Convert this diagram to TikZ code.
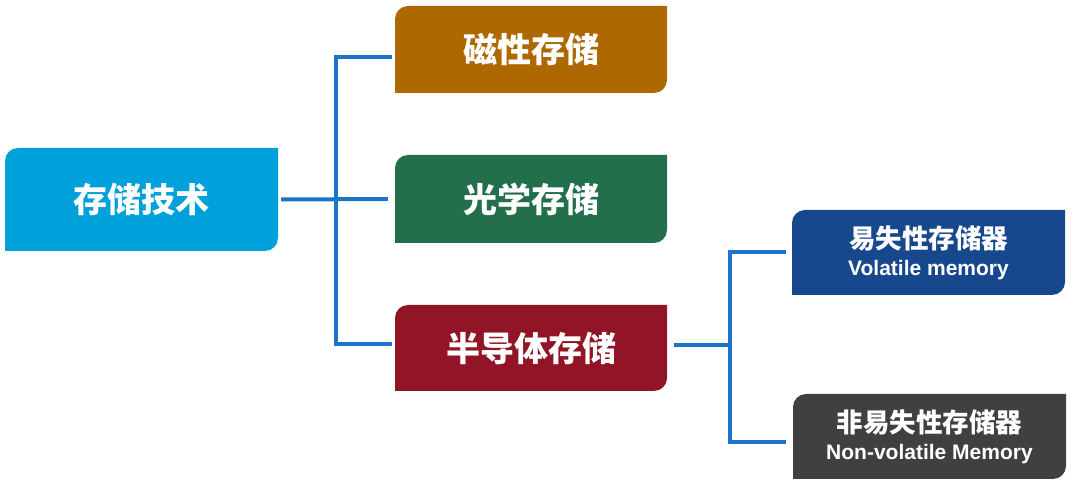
\documentclass[tikz,border=0pt]{standalone}
\usepackage{fontspec}
\setmainfont{Liberation Sans}
\newfontfamily\cjk{Noto Sans CJK SC}
\definecolor{cRoot}{HTML}{00A0DA}
\definecolor{cMag}{HTML}{AE6800}
\definecolor{cOpt}{HTML}{236F4B}
\definecolor{cSemi}{HTML}{921427}
\definecolor{cVol}{HTML}{17478D}
\definecolor{cNvol}{HTML}{404040}
\definecolor{cLine}{HTML}{1B74C9}
\tikzset{
  cbox/.style={rectangle, inner sep=0pt, text=white,
    path picture={\fill[#1] (path picture bounding box.south west)
      -- ([yshift=-13pt]path picture bounding box.north west)
      arc[start angle=180,end angle=90,radius=13pt]
      -- (path picture bounding box.north east)
      -- ([yshift=13pt]path picture bounding box.south east)
      arc[start angle=0,end angle=-90,radius=13pt] -- cycle;}},
  bigtxt/.style={font=\cjk\bfseries\fontsize{34}{40}\selectfont},
  leaftxt/.style={align=center, font=\bfseries\fontsize{21}{27}\selectfont},
  conn/.style={draw=cLine, line width=4pt, line join=miter}
}
\begin{document}
\begin{tikzpicture}[x=1pt,y=1pt]
\useasboundingbox (0,0) rectangle (1080,498);
\node[cbox=cRoot, bigtxt, minimum width=273pt, minimum height=103pt] (root) at (141.5,298.5) {存储技术};
\node[cbox=cMag, bigtxt, minimum width=272pt, minimum height=87pt] (mag) at (531,448.5) {磁性存储};
\node[cbox=cOpt, bigtxt, minimum width=272pt, minimum height=88pt] (opt) at (531,299) {光学存储};
\node[cbox=cSemi, bigtxt, minimum width=272pt, minimum height=86pt] (semi) at (531,150) {半导体存储};
\node[cbox=cVol, leaftxt, minimum width=273pt, minimum height=85pt] (vol) at (928.5,245.5)
  {{\cjk\fontsize{26.5}{27}\selectfont 易失性存储器}\\Volatile memory};
\node[cbox=cNvol, leaftxt, minimum width=273pt, minimum height=85pt] (nvol) at (929.5,61.5)
  {{\cjk\fontsize{26.5}{27}\selectfont 非易失性存储器}\\Non-volatile Memory};
\coordinate (j1) at (335.5,298.5);
\coordinate (j2) at (730,153);
\draw[conn] ([xshift=3pt]root.east) -- ([xshift=-7pt]opt.west);
\draw[conn] ([xshift=-3pt,yshift=-7.5pt]mag.west) -| (j1) |- ([xshift=-3pt,yshift=4pt]semi.west);
\draw[conn] ([xshift=7pt,yshift=3pt]semi.east) -- (j2);
\draw[conn] ([xshift=-6pt]vol.west) -| (j2) |- ([xshift=-7pt,yshift=-5.5pt]nvol.west);
\end{tikzpicture}
\end{document}
